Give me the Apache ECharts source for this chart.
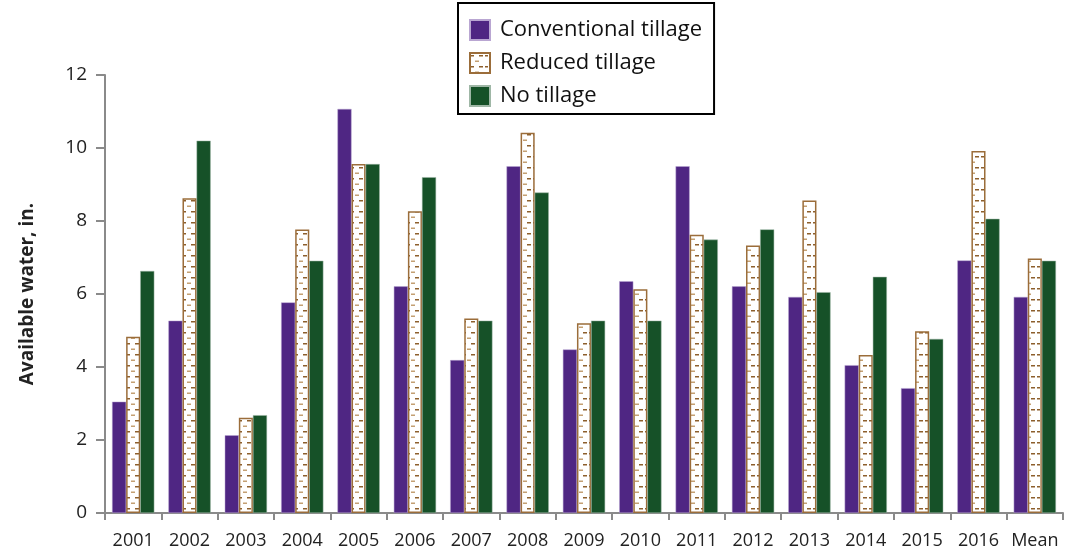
<!DOCTYPE html>
<html>
<head>
<meta charset="utf-8">
<script src="https://cdn.jsdelivr.net/npm/echarts@6/dist/echarts.min.js"></script>
<style>
html,body{margin:0;padding:0;background:#fff;}
#chart{width:1065px;height:556px;}
</style>
</head>
<body>
<div id="chart"></div>
<script>
const categories = ['2001','2002','2003','2004','2005','2006','2007','2008','2009','2010','2011','2012','2013','2014','2015','2016','Mean'];
const conventional = [3.05,5.27,2.13,5.77,11.07,6.21,4.19,9.50,4.48,6.35,9.50,6.21,5.92,4.05,3.42,6.92,5.92];
const reduced      = [4.83,8.62,2.61,7.77,9.56,8.27,5.33,10.42,5.20,6.13,7.62,7.33,8.56,4.33,4.98,9.92,6.97];
const noTillage    = [6.63,10.20,2.68,6.91,9.56,9.20,5.27,8.78,5.27,5.27,7.49,7.77,6.05,6.47,4.77,8.06,6.91];
const yTicks = [0,2,4,6,8,10,12];

function makePattern(){
  const c = document.createElement('canvas');
  c.width = 14; c.height = 11;
  const g = c.getContext('2d');
  g.fillStyle = '#ffffff'; g.fillRect(0,0,14,11);
  g.fillStyle = '#8d5f2c';
  g.fillRect(1,2,3,1.5);
  g.fillRect(9,2,4,1.5);
  g.fillStyle = '#c4a073';
  g.fillRect(5,7.5,4,1.5);
  return c;
}
const pat = {image: makePattern(), repeat: 'repeat'};

const chart = echarts.init(document.getElementById('chart'), null, {renderer:'canvas'});
const font = '"Open Sans", "DejaVu Sans", sans-serif';
chart.setOption({
  animation: false,
  backgroundColor: '#fff',
  grid: {left: 105, right: 2, top: 75, bottom: 43, containLabel: false},
  legend: {
    orient: 'vertical',
    left: 458, top: 3,
    padding: [16, 12, 7, 11],
    itemGap: 11,
    itemWidth: 20, itemHeight: 20,
    icon: 'rect',
    borderColor: '#000', borderWidth: 2,
    textStyle: {fontFamily: font, fontSize: 22, color: '#111', padding: [0,0,0,5]},
    data: ['Conventional tillage','Reduced tillage','No tillage']
  },
  xAxis: {
    type: 'category',
    data: categories,
    axisLine: {lineStyle: {color: '#8a8a8a', width: 2}},
    axisTick: {show: true, length: 7, lineStyle: {color: '#8a8a8a', width: 2}},
    axisLabel: {interval: 0, fontFamily: font, fontSize: 18, color: '#222', margin: 19}
  },
  yAxis: {
    type: 'value',
    min: 0, max: 12, interval: 2,
    name: 'Available water, in.',
    nameLocation: 'middle',
    nameGap: 68,
    nameTextStyle: {fontFamily: font, fontSize: 19, fontWeight: 'bold', color: '#222'},
    splitLine: {show: false},
    axisLine: {show: true, lineStyle: {color: '#8a8a8a', width: 2}},
    axisTick: {show: true, length: 9, lineStyle: {color: '#8a8a8a', width: 2}},
    axisLabel: {fontFamily: font, fontSize: 19, color: '#222', margin: 18,
      formatter: v => yTicks.includes(v) ? String(v) : ''}
  },
  series: [
    {name: 'Conventional tillage', type: 'bar', data: conventional, barGap: '0%', barCategoryGap: '25%',
     itemStyle: {color: '#4f2683', borderColor: '#b9a6d2', borderWidth: 0.5}},
    {name: 'Reduced tillage', type: 'bar', data: reduced,
     itemStyle: {color: pat, borderColor: '#9b6d3a', borderWidth: 1.5}},
    {name: 'No tillage', type: 'bar', data: noTillage,
     itemStyle: {color: '#165128', borderColor: '#9fb7a6', borderWidth: 0.5}}
  ]
});
</script>
</body>
</html>
